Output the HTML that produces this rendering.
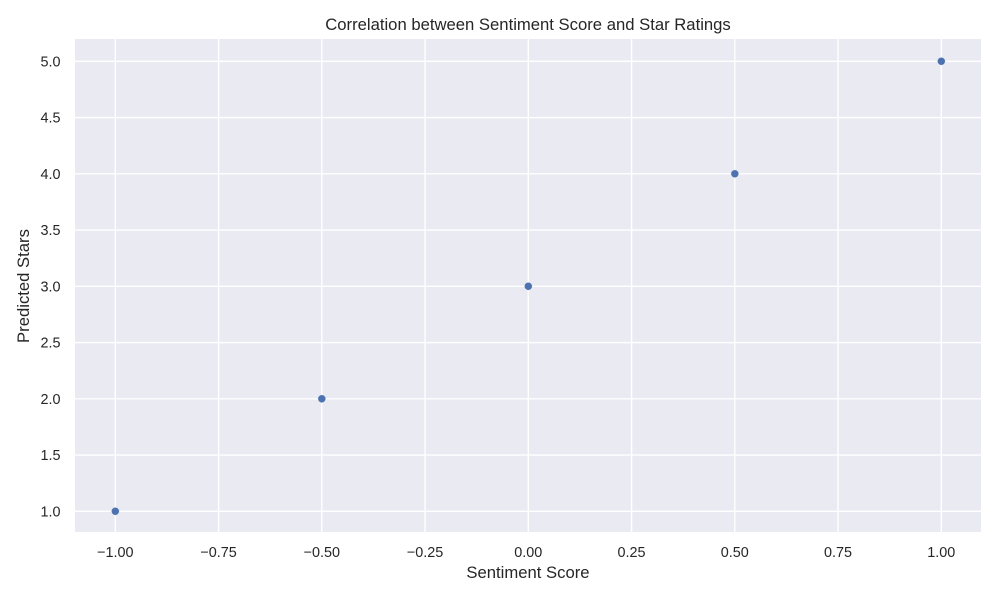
<!DOCTYPE html>
<html>
<head>
<meta charset="utf-8">
<style>
html,body{margin:0;padding:0;background:#fff;}
svg{display:block;}
text{font-family:"Liberation Sans",Arial,sans-serif;fill:#262626;}
</style>
</head>
<body>
<svg id="chart" xmlns="http://www.w3.org/2000/svg" width="1000" height="600" viewBox="0 0 1000 600">
<rect x="0" y="0" width="1000" height="600" fill="#ffffff"/>
<rect x="75" y="39" width="906" height="493" fill="#EAEAF2"/>
<g id="grid"></g>
<g id="points"></g>
<g id="xticks"></g>
<g id="yticks"></g>
<text x="528" y="30" text-anchor="middle" font-size="16.67">Correlation between Sentiment Score and Star Ratings</text>
<text x="528" y="578" text-anchor="middle" font-size="16.67">Sentiment Score</text>
<text transform="translate(29,286) rotate(-90)" text-anchor="middle" font-size="16.67">Predicted Stars</text>
</svg>
<script>
var sentimentScores = [-1, -0.5, 0, 0.5, 1];
var predictedStars = [1, 2, 3, 4, 5];
var xTickValues = [-1, -0.75, -0.5, -0.25, 0, 0.25, 0.5, 0.75, 1];
var xTickLabels = ['\u22121.00', '\u22120.75', '\u22120.50', '\u22120.25', '0.00', '0.25', '0.50', '0.75', '1.00'];
var yTickValues = [1, 1.5, 2, 2.5, 3, 3.5, 4, 4.5, 5];
var yTickLabels = ['1.0', '1.5', '2.0', '2.5', '3.0', '3.5', '4.0', '4.5', '5.0'];

var NS = 'http://www.w3.org/2000/svg';
var plot = {left: 75, right: 981, top: 39, bottom: 532};
var xDomain = [-1.0976, 1.0961];
var yDomain = [0.816, 5.198];

function xScale(v) {
  return plot.left + (v - xDomain[0]) / (xDomain[1] - xDomain[0]) * (plot.right - plot.left);
}
function yScale(v) {
  return plot.bottom - (v - yDomain[0]) / (yDomain[1] - yDomain[0]) * (plot.bottom - plot.top);
}
function make(tag, attrs) {
  var el = document.createElementNS(NS, tag);
  for (var k in attrs) el.setAttribute(k, attrs[k]);
  return el;
}

var grid = document.getElementById('grid');
var xTicks = document.getElementById('xticks');
var yTicks = document.getElementById('yticks');
var points = document.getElementById('points');

xTickValues.forEach(function (v, i) {
  var x = xScale(v);
  var line = make('line', {x1: x, x2: x, y1: plot.top, y2: plot.bottom, stroke: '#ffffff', 'stroke-width': 1.4});
  
  
  grid.appendChild(line);
  var label = make('text', {x: x, y: 557, 'text-anchor': 'middle', 'font-size': 14.4});
  
  
  label.textContent = xTickLabels[i];
  xTicks.appendChild(label);
});

yTickValues.forEach(function (v, i) {
  var y = yScale(v);
  var line = make('line', {x1: plot.left, x2: plot.right, y1: y, y2: y, stroke: '#ffffff', 'stroke-width': 1.4});
  
  
  grid.appendChild(line);
  var label = make('text', {x: 60.5, y: y + 5, 'text-anchor': 'end', 'font-size': 14.4});
  
  
  label.textContent = yTickLabels[i];
  yTicks.appendChild(label);
});

sentimentScores.forEach(function (v, i) {
  var dot = make('circle', {cx: xScale(v), cy: yScale(predictedStars[i]), r: 3.9, fill: '#4C72B0', stroke: '#ffffff', 'stroke-width': 0.3});
  
  
  points.appendChild(dot);
});
</script>
</body>
</html>
